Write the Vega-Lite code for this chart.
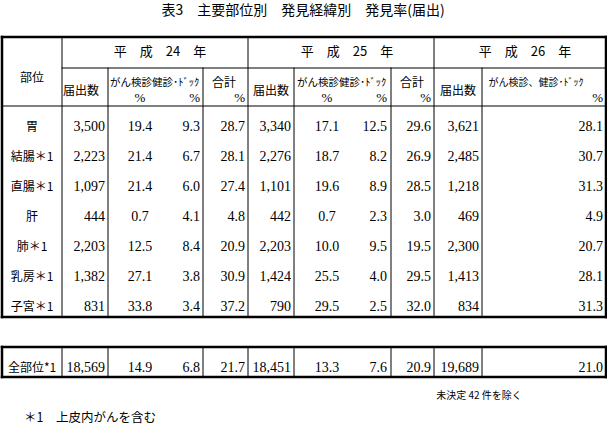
{
  "$schema": "https://vega.github.io/schema/vega-lite/v6.json",
  "width": 607,
  "height": 426,
  "padding": 0,
  "autosize": {"type": "none"},
  "background": "white",
  "config": {"view": {"stroke": null}},
  "datasets": {
    "lines": [
      {"line": "外枠", "col": 0, "col2": 33, "row": 1, "row2": 1},
      {"line": "外枠", "col": 0, "col2": 0, "row": 1, "row2": 16},
      {"line": "外枠", "col": 33, "col2": 33, "row": 1, "row2": 16},
      {"line": "外枠", "col": 0, "col2": 33, "row": 16, "row2": 16},
      {"line": "外枠", "col": 0, "col2": 33, "row": 17, "row2": 17},
      {"line": "外枠", "col": 0, "col2": 33, "row": 19, "row2": 19},
      {"line": "外枠", "col": 0, "col2": 0, "row": 17, "row2": 19},
      {"line": "外枠", "col": 33, "col2": 33, "row": 17, "row2": 19},
      {"line": "罫線", "col": 3, "col2": 33, "row": 3, "row2": 3},
      {"line": "罫線", "col": 0, "col2": 33, "row": 8, "row2": 8},
      {"line": "罫線", "col": 3, "col2": 3, "row": 1, "row2": 16},
      {"line": "罫線", "col": 14, "col2": 14, "row": 1, "row2": 16},
      {"line": "罫線", "col": 26, "col2": 26, "row": 1, "row2": 16},
      {"line": "罫線", "col": 6, "col2": 6, "row": 3, "row2": 16},
      {"line": "罫線", "col": 11, "col2": 11, "row": 3, "row2": 16},
      {"line": "罫線", "col": 17, "col2": 17, "row": 3, "row2": 16},
      {"line": "罫線", "col": 23, "col2": 23, "row": 3, "row2": 16},
      {"line": "罫線", "col": 29, "col2": 29, "row": 3, "row2": 16},
      {"line": "罫線", "col": 3, "col2": 3, "row": 17, "row2": 19},
      {"line": "罫線", "col": 6, "col2": 6, "row": 17, "row2": 19},
      {"line": "罫線", "col": 11, "col2": 11, "row": 17, "row2": 19},
      {"line": "罫線", "col": 14, "col2": 14, "row": 17, "row2": 19},
      {"line": "罫線", "col": 17, "col2": 17, "row": 17, "row2": 19},
      {"line": "罫線", "col": 23, "col2": 23, "row": 17, "row2": 19},
      {"line": "罫線", "col": 26, "col2": 26, "row": 17, "row2": 19},
      {"line": "罫線", "col": 29, "col2": 29, "row": 17, "row2": 19}
    ],
    "texts": [
      {"kind": "title", "text": "表3　主要部位別　発見経緯別　発見率(届出)", "col": 19, "row": 0},
      {"kind": "year", "text": "平　成　24　年", "col": 9, "row": 2},
      {"kind": "year", "text": "平　成　25　年", "col": 21, "row": 2},
      {"kind": "year", "text": "平　成　26　年", "col": 30, "row": 2},
      {"kind": "head", "text": "部位", "col": 2, "row": 4},
      {"kind": "head", "text": "届出数", "col": 4, "row": 6},
      {"kind": "head", "text": "届出数", "col": 15, "row": 6},
      {"kind": "head", "text": "届出数", "col": 27, "row": 6},
      {"kind": "head", "text": "合計", "col": 12, "row": 5},
      {"kind": "head", "text": "合計", "col": 24, "row": 5},
      {"kind": "kenshin", "text": "がん検診健診･ﾄﾞｯｸ", "col": 7, "row": 5},
      {"kind": "kenshin", "text": "がん検診健診･ﾄﾞｯｸ", "col": 18, "row": 5},
      {"kind": "kenshin26", "text": "がん検診、健診･ﾄﾞｯｸ", "col": 31, "row": 5},
      {"kind": "pctC", "text": "%", "col": 8, "row": 7},
      {"kind": "pctC", "text": "%", "col": 20, "row": 7},
      {"kind": "pctR", "text": "%", "col": 10, "row": 7},
      {"kind": "pctR", "text": "%", "col": 13, "row": 7},
      {"kind": "pctR", "text": "%", "col": 22, "row": 7},
      {"kind": "pctR", "text": "%", "col": 25, "row": 7},
      {"kind": "pctR", "text": "%", "col": 32, "row": 7},
      {"kind": "site", "text": "胃", "col": 2, "row": 9},
      {"kind": "site", "text": "結腸＊1", "col": 2, "row": 10},
      {"kind": "site", "text": "直腸＊1", "col": 2, "row": 11},
      {"kind": "site", "text": "肝", "col": 2, "row": 12},
      {"kind": "site", "text": "肺＊1", "col": 2, "row": 13},
      {"kind": "site", "text": "乳房＊1", "col": 2, "row": 14},
      {"kind": "site", "text": "子宮＊1", "col": 2, "row": 15},
      {"kind": "site", "text": "全部位*1", "col": 2, "row": 18},
      {"kind": "note", "text": "未決定 42 件を除く", "col": 28, "row": 20},
      {"kind": "foot", "text": "＊1　上皮内がんを含む", "col": 1, "row": 21}
    ],
    "cells": [
      {"site": "胃", "year": "H24", "kind": "届出数", "value": 3500, "row": 9, "col": 5},
      {"site": "胃", "year": "H24", "kind": "がん検診", "value": 19.4, "row": 9, "col": 8},
      {"site": "胃", "year": "H24", "kind": "健診・ドック", "value": 9.3, "row": 9, "col": 10},
      {"site": "胃", "year": "H24", "kind": "合計", "value": 28.7, "row": 9, "col": 13},
      {"site": "胃", "year": "H25", "kind": "届出数", "value": 3340, "row": 9, "col": 16},
      {"site": "胃", "year": "H25", "kind": "がん検診", "value": 17.1, "row": 9, "col": 20},
      {"site": "胃", "year": "H25", "kind": "健診・ドック", "value": 12.5, "row": 9, "col": 22},
      {"site": "胃", "year": "H25", "kind": "合計", "value": 29.6, "row": 9, "col": 25},
      {"site": "胃", "year": "H26", "kind": "届出数", "value": 3621, "row": 9, "col": 28},
      {"site": "胃", "year": "H26", "kind": "がん検診、健診・ドック", "value": 28.1, "row": 9, "col": 32},

      {"site": "結腸＊1", "year": "H24", "kind": "届出数", "value": 2223, "row": 10, "col": 5},
      {"site": "結腸＊1", "year": "H24", "kind": "がん検診", "value": 21.4, "row": 10, "col": 8},
      {"site": "結腸＊1", "year": "H24", "kind": "健診・ドック", "value": 6.7, "row": 10, "col": 10},
      {"site": "結腸＊1", "year": "H24", "kind": "合計", "value": 28.1, "row": 10, "col": 13},
      {"site": "結腸＊1", "year": "H25", "kind": "届出数", "value": 2276, "row": 10, "col": 16},
      {"site": "結腸＊1", "year": "H25", "kind": "がん検診", "value": 18.7, "row": 10, "col": 20},
      {"site": "結腸＊1", "year": "H25", "kind": "健診・ドック", "value": 8.2, "row": 10, "col": 22},
      {"site": "結腸＊1", "year": "H25", "kind": "合計", "value": 26.9, "row": 10, "col": 25},
      {"site": "結腸＊1", "year": "H26", "kind": "届出数", "value": 2485, "row": 10, "col": 28},
      {"site": "結腸＊1", "year": "H26", "kind": "がん検診、健診・ドック", "value": 30.7, "row": 10, "col": 32},

      {"site": "直腸＊1", "year": "H24", "kind": "届出数", "value": 1097, "row": 11, "col": 5},
      {"site": "直腸＊1", "year": "H24", "kind": "がん検診", "value": 21.4, "row": 11, "col": 8},
      {"site": "直腸＊1", "year": "H24", "kind": "健診・ドック", "value": 6.0, "row": 11, "col": 10},
      {"site": "直腸＊1", "year": "H24", "kind": "合計", "value": 27.4, "row": 11, "col": 13},
      {"site": "直腸＊1", "year": "H25", "kind": "届出数", "value": 1101, "row": 11, "col": 16},
      {"site": "直腸＊1", "year": "H25", "kind": "がん検診", "value": 19.6, "row": 11, "col": 20},
      {"site": "直腸＊1", "year": "H25", "kind": "健診・ドック", "value": 8.9, "row": 11, "col": 22},
      {"site": "直腸＊1", "year": "H25", "kind": "合計", "value": 28.5, "row": 11, "col": 25},
      {"site": "直腸＊1", "year": "H26", "kind": "届出数", "value": 1218, "row": 11, "col": 28},
      {"site": "直腸＊1", "year": "H26", "kind": "がん検診、健診・ドック", "value": 31.3, "row": 11, "col": 32},

      {"site": "肝", "year": "H24", "kind": "届出数", "value": 444, "row": 12, "col": 5},
      {"site": "肝", "year": "H24", "kind": "がん検診", "value": 0.7, "row": 12, "col": 8},
      {"site": "肝", "year": "H24", "kind": "健診・ドック", "value": 4.1, "row": 12, "col": 10},
      {"site": "肝", "year": "H24", "kind": "合計", "value": 4.8, "row": 12, "col": 13},
      {"site": "肝", "year": "H25", "kind": "届出数", "value": 442, "row": 12, "col": 16},
      {"site": "肝", "year": "H25", "kind": "がん検診", "value": 0.7, "row": 12, "col": 20},
      {"site": "肝", "year": "H25", "kind": "健診・ドック", "value": 2.3, "row": 12, "col": 22},
      {"site": "肝", "year": "H25", "kind": "合計", "value": 3.0, "row": 12, "col": 25},
      {"site": "肝", "year": "H26", "kind": "届出数", "value": 469, "row": 12, "col": 28},
      {"site": "肝", "year": "H26", "kind": "がん検診、健診・ドック", "value": 4.9, "row": 12, "col": 32},

      {"site": "肺＊1", "year": "H24", "kind": "届出数", "value": 2203, "row": 13, "col": 5},
      {"site": "肺＊1", "year": "H24", "kind": "がん検診", "value": 12.5, "row": 13, "col": 8},
      {"site": "肺＊1", "year": "H24", "kind": "健診・ドック", "value": 8.4, "row": 13, "col": 10},
      {"site": "肺＊1", "year": "H24", "kind": "合計", "value": 20.9, "row": 13, "col": 13},
      {"site": "肺＊1", "year": "H25", "kind": "届出数", "value": 2203, "row": 13, "col": 16},
      {"site": "肺＊1", "year": "H25", "kind": "がん検診", "value": 10.0, "row": 13, "col": 20},
      {"site": "肺＊1", "year": "H25", "kind": "健診・ドック", "value": 9.5, "row": 13, "col": 22},
      {"site": "肺＊1", "year": "H25", "kind": "合計", "value": 19.5, "row": 13, "col": 25},
      {"site": "肺＊1", "year": "H26", "kind": "届出数", "value": 2300, "row": 13, "col": 28},
      {"site": "肺＊1", "year": "H26", "kind": "がん検診、健診・ドック", "value": 20.7, "row": 13, "col": 32},

      {"site": "乳房＊1", "year": "H24", "kind": "届出数", "value": 1382, "row": 14, "col": 5},
      {"site": "乳房＊1", "year": "H24", "kind": "がん検診", "value": 27.1, "row": 14, "col": 8},
      {"site": "乳房＊1", "year": "H24", "kind": "健診・ドック", "value": 3.8, "row": 14, "col": 10},
      {"site": "乳房＊1", "year": "H24", "kind": "合計", "value": 30.9, "row": 14, "col": 13},
      {"site": "乳房＊1", "year": "H25", "kind": "届出数", "value": 1424, "row": 14, "col": 16},
      {"site": "乳房＊1", "year": "H25", "kind": "がん検診", "value": 25.5, "row": 14, "col": 20},
      {"site": "乳房＊1", "year": "H25", "kind": "健診・ドック", "value": 4.0, "row": 14, "col": 22},
      {"site": "乳房＊1", "year": "H25", "kind": "合計", "value": 29.5, "row": 14, "col": 25},
      {"site": "乳房＊1", "year": "H26", "kind": "届出数", "value": 1413, "row": 14, "col": 28},
      {"site": "乳房＊1", "year": "H26", "kind": "がん検診、健診・ドック", "value": 28.1, "row": 14, "col": 32},

      {"site": "子宮＊1", "year": "H24", "kind": "届出数", "value": 831, "row": 15, "col": 5},
      {"site": "子宮＊1", "year": "H24", "kind": "がん検診", "value": 33.8, "row": 15, "col": 8},
      {"site": "子宮＊1", "year": "H24", "kind": "健診・ドック", "value": 3.4, "row": 15, "col": 10},
      {"site": "子宮＊1", "year": "H24", "kind": "合計", "value": 37.2, "row": 15, "col": 13},
      {"site": "子宮＊1", "year": "H25", "kind": "届出数", "value": 790, "row": 15, "col": 16},
      {"site": "子宮＊1", "year": "H25", "kind": "がん検診", "value": 29.5, "row": 15, "col": 20},
      {"site": "子宮＊1", "year": "H25", "kind": "健診・ドック", "value": 2.5, "row": 15, "col": 22},
      {"site": "子宮＊1", "year": "H25", "kind": "合計", "value": 32.0, "row": 15, "col": 25},
      {"site": "子宮＊1", "year": "H26", "kind": "届出数", "value": 834, "row": 15, "col": 28},
      {"site": "子宮＊1", "year": "H26", "kind": "がん検診、健診・ドック", "value": 31.3, "row": 15, "col": 32},

      {"site": "全部位*1", "year": "H24", "kind": "届出数", "value": 18569, "row": 18, "col": 5},
      {"site": "全部位*1", "year": "H24", "kind": "がん検診", "value": 14.9, "row": 18, "col": 8},
      {"site": "全部位*1", "year": "H24", "kind": "健診・ドック", "value": 6.8, "row": 18, "col": 10},
      {"site": "全部位*1", "year": "H24", "kind": "合計", "value": 21.7, "row": 18, "col": 13},
      {"site": "全部位*1", "year": "H25", "kind": "届出数", "value": 18451, "row": 18, "col": 16},
      {"site": "全部位*1", "year": "H25", "kind": "がん検診", "value": 13.3, "row": 18, "col": 20},
      {"site": "全部位*1", "year": "H25", "kind": "健診・ドック", "value": 7.6, "row": 18, "col": 22},
      {"site": "全部位*1", "year": "H25", "kind": "合計", "value": 20.9, "row": 18, "col": 25},
      {"site": "全部位*1", "year": "H26", "kind": "届出数", "value": 19689, "row": 18, "col": 28},
      {"site": "全部位*1", "year": "H26", "kind": "がん検診、健診・ドック", "value": 21.0, "row": 18, "col": 32}
    ]
  },
  "encoding": {
    "x": {
      "field": "col", "type": "quantitative", "axis": null,
      "scale": {
        "domain": [0,1,2,3,4,5,6,7,8,9,10,11,12,13,14,15,16,17,18,19,20,21,22,23,24,25,26,27,28,29,30,31,32,33],
        "range": [2,24,32,62,81,105,108,110,140,160,200,203,224,245,248,271,291,294,297,303,327,347,387,391,412,431,434,458,479,482,525,536,603,606],
        "nice": false, "zero": false
      }
    },
    "y": {
      "field": "row", "type": "quantitative", "axis": null,
      "scale": {
        "domain": [0,1,2,3,4,5,6,7,8,9,10,11,12,13,14,15,16,17,18,19,20,21],
        "range": [11,37,52,68,78,83,91,98,106,127,157,187,217,247,277,307,317,347,368,377,396,418],
        "nice": false, "zero": false
      }
    }
  },
  "layer": [
    {
      "data": {"name": "lines"},
      "mark": {"type": "rule", "color": "black", "strokeCap": "square"},
      "encoding": {
        "x2": {"field": "col2"},
        "y2": {"field": "row2"},
        "strokeWidth": {"field": "line", "type": "nominal", "legend": null,
          "scale": {"domain": ["外枠", "罫線"], "range": [2.5, 1]}}
      }
    },
    {
      "data": {"name": "texts"},
      "transform": [{"filter": {"field": "kind", "equal": "title"}}],
      "mark": {"type": "text", "align": "center", "baseline": "middle", "font": "Noto Sans CJK JP", "fontSize": 14, "color": "black"},
      "encoding": {"text": {"field": "text"}}
    },
    {
      "data": {"name": "texts"},
      "transform": [{"filter": {"field": "kind", "equal": "year"}}],
      "mark": {"type": "text", "align": "center", "baseline": "middle", "font": "Noto Sans CJK JP", "fontSize": 13, "color": "black"},
      "encoding": {"text": {"field": "text"}}
    },
    {
      "data": {"name": "texts"},
      "transform": [{"filter": {"field": "kind", "oneOf": ["head", "site"]}}],
      "mark": {"type": "text", "align": "center", "baseline": "middle", "font": "Noto Sans CJK JP", "fontSize": 12, "color": "black"},
      "encoding": {"text": {"field": "text"}}
    },
    {
      "data": {"name": "texts"},
      "transform": [{"filter": {"field": "kind", "equal": "kenshin"}}],
      "mark": {"type": "text", "align": "left", "baseline": "middle", "font": "Noto Sans CJK JP", "fontSize": 10.5, "color": "black", "limit": 93, "ellipsis": "\u200b"},
      "encoding": {"text": {"field": "text"}}
    },
    {
      "data": {"name": "texts"},
      "transform": [{"filter": {"field": "kind", "equal": "kenshin26"}}],
      "mark": {"type": "text", "align": "center", "baseline": "middle", "font": "Noto Sans CJK JP", "fontSize": 10, "color": "black"},
      "encoding": {"text": {"field": "text"}}
    },
    {
      "data": {"name": "texts"},
      "transform": [{"filter": {"field": "kind", "equal": "pctC"}}],
      "mark": {"type": "text", "align": "center", "baseline": "middle", "font": "Liberation Serif", "fontSize": 13, "color": "black"},
      "encoding": {"text": {"field": "text"}}
    },
    {
      "data": {"name": "texts"},
      "transform": [{"filter": {"field": "kind", "equal": "pctR"}}],
      "mark": {"type": "text", "align": "right", "baseline": "middle", "font": "Liberation Serif", "fontSize": 13, "color": "black"},
      "encoding": {"text": {"field": "text"}}
    },
    {
      "data": {"name": "texts"},
      "transform": [{"filter": {"field": "kind", "equal": "note"}}],
      "mark": {"type": "text", "align": "center", "baseline": "middle", "font": "Noto Sans CJK JP", "fontSize": 10, "color": "black"},
      "encoding": {"text": {"field": "text"}}
    },
    {
      "data": {"name": "texts"},
      "transform": [{"filter": {"field": "kind", "equal": "foot"}}],
      "mark": {"type": "text", "align": "left", "baseline": "middle", "font": "Noto Sans CJK JP", "fontSize": 12.5, "color": "black"},
      "encoding": {"text": {"field": "text"}}
    },
    {
      "data": {"name": "cells"},
      "transform": [{"filter": {"field": "kind", "equal": "届出数"}}],
      "mark": {"type": "text", "align": "right", "baseline": "middle", "font": "Liberation Serif", "fontSize": 14, "color": "black"},
      "encoding": {"text": {"field": "value", "type": "quantitative", "format": ","}}
    },
    {
      "data": {"name": "cells"},
      "transform": [{"filter": {"field": "kind", "oneOf": ["健診・ドック", "合計", "がん検診、健診・ドック"]}}],
      "mark": {"type": "text", "align": "right", "baseline": "middle", "font": "Liberation Serif", "fontSize": 14, "color": "black"},
      "encoding": {"text": {"field": "value", "type": "quantitative", "format": ".1f"}}
    },
    {
      "data": {"name": "cells"},
      "transform": [{"filter": {"field": "kind", "equal": "がん検診"}}],
      "mark": {"type": "text", "align": "center", "baseline": "middle", "font": "Liberation Serif", "fontSize": 14, "color": "black"},
      "encoding": {"text": {"field": "value", "type": "quantitative", "format": ".1f"}}
    }
  ]
}
